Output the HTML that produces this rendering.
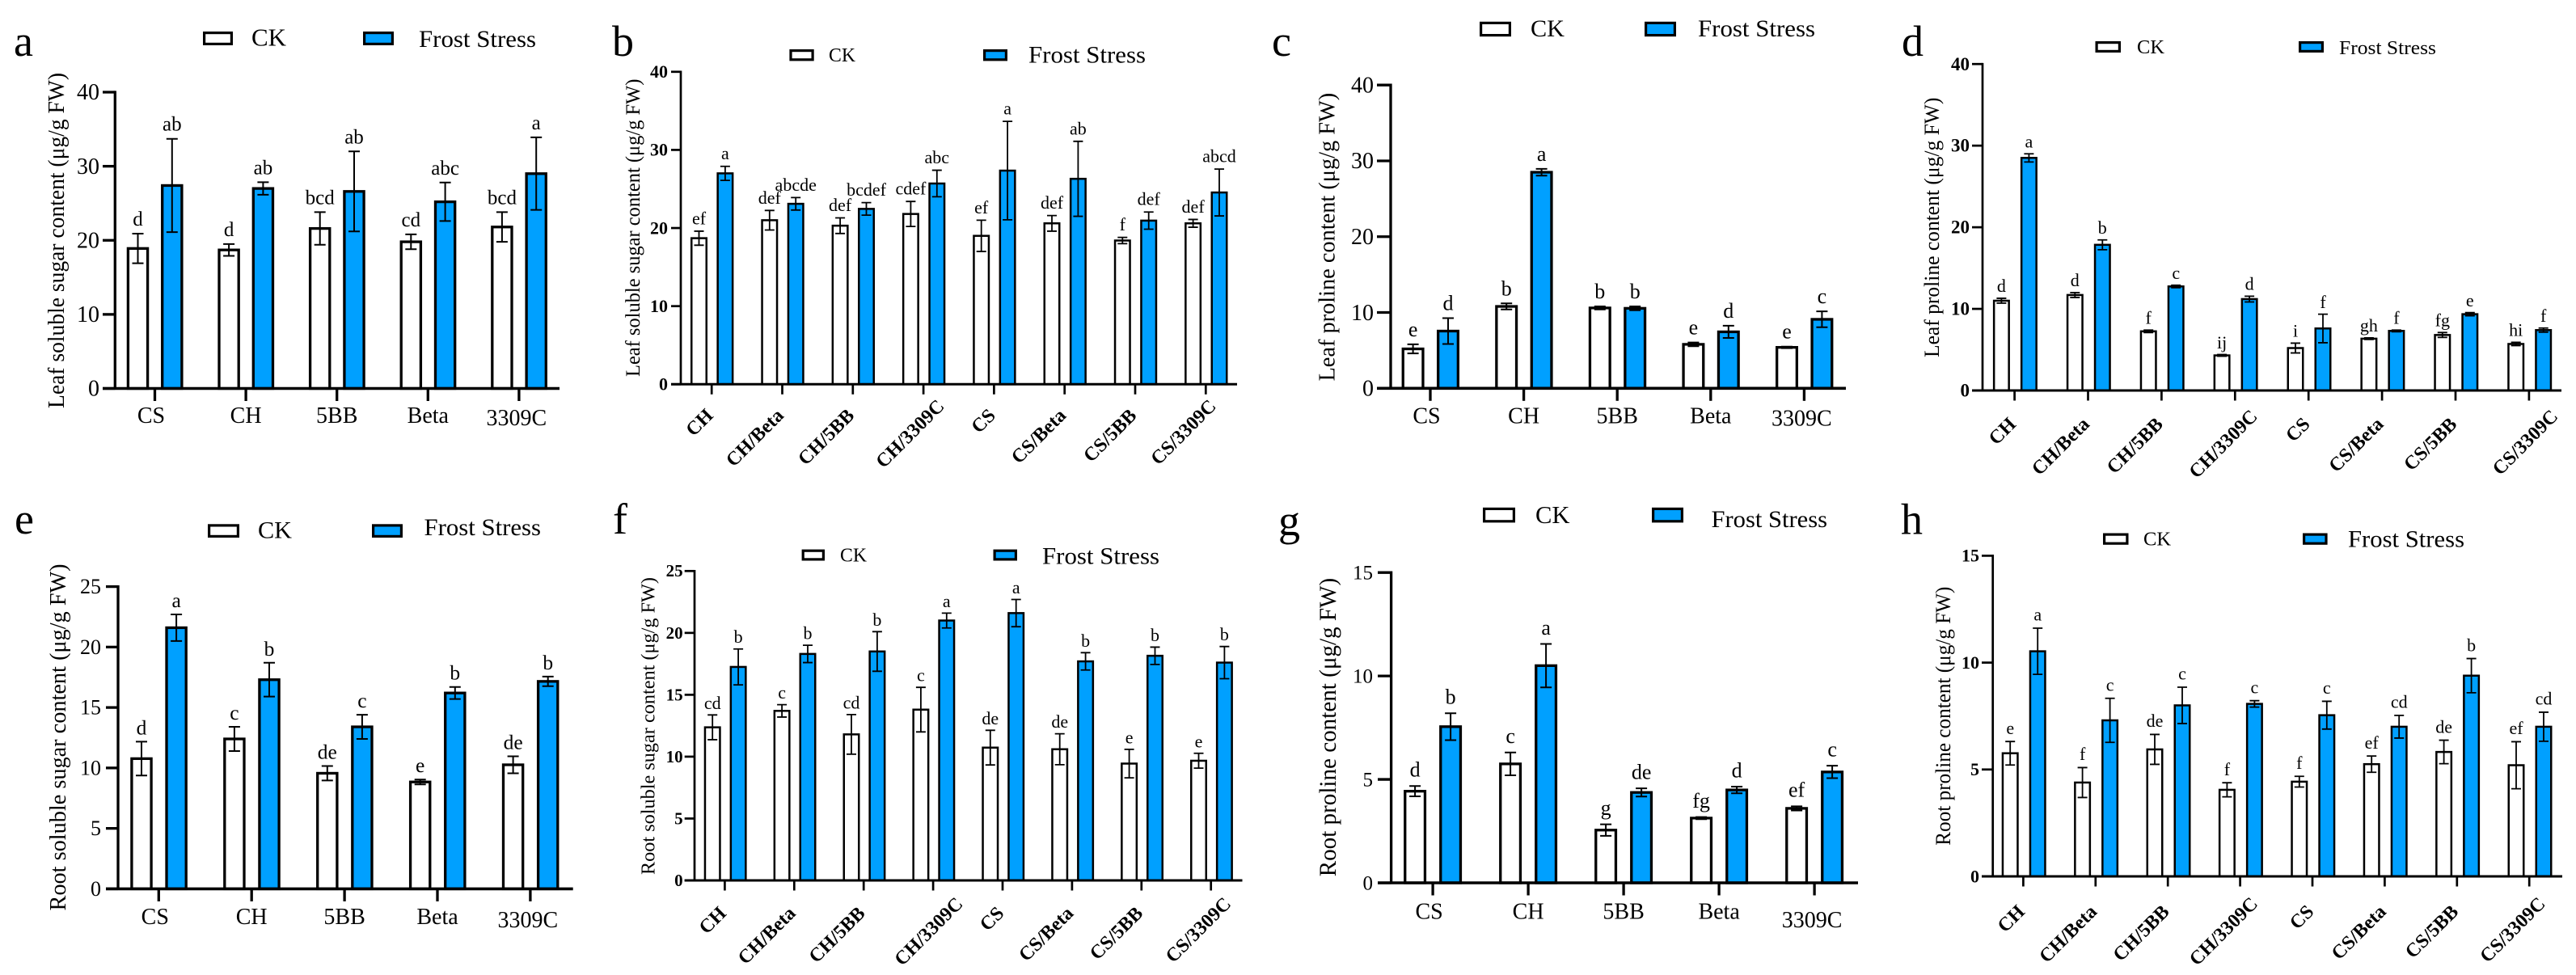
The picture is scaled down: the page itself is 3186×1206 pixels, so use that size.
<!DOCTYPE html>
<html lang="en">
<head>
<meta charset="utf-8">
<title>Soluble sugar and proline content under frost stress</title>
<style>
html,body{margin:0;padding:0;background:#fff;width:3186px;height:1206px;overflow:hidden;}
svg{display:block;font-family:"Liberation Serif","Times New Roman",serif;}
</style>
</head>
<body>
<svg id="figure" xmlns="http://www.w3.org/2000/svg" width="3186" height="1206" viewBox="0 0 3186 1206">
<rect x="0" y="0" width="3186" height="1206" fill="#fff"/>
</svg>
<script>
const categories5 = ['CS','CH','5BB','Beta','3309C'];
const categories8 = ['CH','CH/Beta','CH/5BB','CH/3309C','CS','CS/Beta','CS/5BB','CS/3309C'];
const ticks40 = [0,10,20,30,40];
const ticks25 = [0,5,10,15,20,25];
const ticks15 = [0,5,10,15];
const seriesNames = ['CK','Frost Stress'];

const aCk = [18.9,18.7,21.6,19.8,21.8];
const aCkErr = [2,0.8,2.2,1,2];
const aFrost = [27.4,27.0,26.6,25.2,29];
const aFrostErr = [6.3,0.85,5.4,2.6,4.9];
const aCkLetters = ['d','d','bcd','cd','bcd'];
const aFrostLetters = ['ab','ab','ab','abc','a'];

const bCk = [18.7,21,20.3,21.8,19,20.6,18.4,20.6];
const bCkErr = [0.9,1.25,1,1.6,2,1,0.4,0.5];
const bFrost = [27,23.1,22.45,25.7,27.35,26.3,20.95,24.55];
const bFrostErr = [0.9,0.8,0.8,1.7,6.3,4.8,1.1,3];
const bCkLetters = ['ef','def','def','cdef','ef','def','f','def'];
const bFrostLetters = ['a','abcde','bcdef','abc','a','ab','def','abcd'];

const cCk = [5.2,10.8,10.6,5.8,5.4];
const cCkErr = [0.6,0.4,0.2,0.25,0.1];
const cFrost = [7.55,28.5,10.55,7.45,9.1];
const cFrostErr = [1.7,0.45,0.25,0.8,1.05];
const cCkLetters = ['e','b','b','e','e'];
const cFrostLetters = ['d','a','b','d','c'];

const dCk = [11,11.7,7.25,4.3,5.2,6.35,6.8,5.7];
const dCkErr = [0.3,0.3,0.15,0.1,0.6,0.1,0.3,0.2];
const dFrost = [28.5,17.85,12.75,11.2,7.6,7.3,9.35,7.4];
const dFrostErr = [0.5,0.6,0.15,0.35,1.75,0.1,0.2,0.25];
const dCkLetters = ['d','d','f','ij','i','gh','fg','hi'];
const dFrostLetters = ['a','b','c','d','f','f','e','f'];

const eCk = [10.77,12.4,9.56,8.84,10.26];
const eCkErr = [1.4,1,0.6,0.2,0.7];
const eFrost = [21.6,17.3,13.4,16.2,17.16];
const eFrostErr = [1.1,1.4,1,0.5,0.4];
const eCkLetters = ['d','c','de','e','de'];
const eFrostLetters = ['a','b','c','b','b'];

const fCk = [12.37,13.7,11.8,13.8,10.73,10.6,9.44,9.67];
const fCkErr = [1,0.5,1.6,1.8,1.4,1.25,1.15,0.6];
const fFrost = [17.25,18.3,18.5,21,21.6,17.7,18.15,17.6];
const fFrostErr = [1.45,0.7,1.6,0.6,1.1,0.7,0.7,1.3];
const fCkLetters = ['cd','c','cd','c','de','de','e','e'];
const fFrostLetters = ['b','b','b','a','a','b','b','b'];

const gCk = [4.43,5.75,2.55,3.13,3.6];
const gCkErr = [0.25,0.55,0.28,0.05,0.1];
const gFrost = [7.55,10.5,4.37,4.49,5.36];
const gFrostErr = [0.65,1.05,0.2,0.16,0.3];
const gCkLetters = ['d','c','g','fg','ef'];
const gFrostLetters = ['b','a','de','d','c'];

const hCk = [5.76,4.39,5.94,4.05,4.43,5.25,5.82,5.2];
const hCkErr = [0.55,0.7,0.7,0.33,0.25,0.38,0.55,1.1];
const hFrost = [10.53,7.3,8,8.07,7.54,7,9.39,7];
const hFrostErr = [1.08,1.03,0.85,0.15,0.65,0.53,0.8,0.68];
const hCkLetters = ['e','f','de','f','f','ef','de','ef'];
const hFrostLetters = ['a','c','c','c','c','cd','b','cd'];

const NS = 'http://www.w3.org/2000/svg';
const BLUE = '#00a0ff';
const figure = document.getElementById('figure');

function make(tag, attrs, parent) {
  const el = document.createElementNS(NS, tag);
  for (const k in attrs) el.setAttribute(k, attrs[k]);
  parent.appendChild(el);
  return el;
}

function label(parent, str, x, y, size, o) {
  o = o || {};
  const parts = ['translate(' + x + ',' + y + ')'];
  if (o.rot) parts.push('rotate(' + o.rot + ')');
  const attrs = {transform: parts.join(' '), 'font-size': size, 'text-anchor': o.anchor || 'middle', fill: '#000'};
  if (o.bold) attrs['font-weight'] = 'bold';
  if (o.len) { attrs.textLength = o.len; attrs.lengthAdjust = 'spacingAndGlyphs'; }
  const t = make('text', attrs, parent);
  t.textContent = str;
  return t;
}

function drawPanel(p, d) {
  const g = make('g', {}, figure);
  
  

  const Y = v => p.y0 - v / d.ticks[d.ticks.length - 1] * (p.y0 - p.yTop);
  const X = i => p.x0 + i * p.step;

  const letter = label(g, p.id, p.letter[0], p.letter[1], 54, {anchor: 'start'});
  
  

  // legend
  const L = p.legend;
  const swCk = make('rect', {x: L.ckBox[0] + 1.6, y: L.boxY[0] + 1.6, width: L.ckBox[1] - L.ckBox[0] - 3.2, height: L.boxY[1] - L.boxY[0] - 3.2, fill: '#fff', stroke: '#000', 'stroke-width': 3.2}, g);
  
  
  const tCk = label(g, seriesNames[0], L.ck[0], L.ck[2], L.ck[3], {anchor: 'start', len: L.ck[1] - L.ck[0]});
  
  
  const swFr = make('rect', {x: L.frBox[0] + 1.6, y: L.boxY[0] + 1.6, width: L.frBox[1] - L.frBox[0] - 3.2, height: L.boxY[1] - L.boxY[0] - 3.2, fill: BLUE, stroke: '#000', 'stroke-width': 3.2}, g);
  
  
  const tFr = label(g, seriesNames[1], L.fr[0], L.fr[2], L.fr[3], {anchor: 'start', len: L.fr[1] - L.fr[0]});
  
  

  // y axis title
  const title = label(g, p.title, p.titleX, p.titleBottom, p.titleSize, {rot: -90, anchor: 'start', len: p.titleBottom - p.titleTop});
  
  

  // bars, error bars, letters
  function series(values, errs, letters, off, fill, kind) {
    values.forEach((v, i) => {
      const cx = X(i) + off;
      const sw = p.barStroke;
      const bar = make('rect', {x: cx - p.barW / 2 + sw / 2, y: Y(v), width: p.barW - sw, height: Y(0) - Y(v), fill: fill, stroke: '#000', 'stroke-width': sw}, g);
      
      

      const hi = Y(v + errs[i]), lo = Y(v - errs[i]);
      const err = make('path', {d: 'M' + cx + ' ' + hi + 'V' + lo + 'M' + (cx - p.cap) + ' ' + hi + 'H' + (cx + p.cap) + 'M' + (cx - p.cap) + ' ' + lo + 'H' + (cx + p.cap), stroke: '#000', 'stroke-width': p.errStroke, fill: 'none'}, g);
      
      

      const sig = label(g, letters[i], cx, hi - p.gap, p.sigSize);
      
      
    });
  }
  series(d.ck, d.ckErr, d.ckLetters, p.offCk, '#fff', 'ck');
  series(d.frost, d.frostErr, d.frostLetters, p.offFr, BLUE, 'frost-stress');

  // axes
  const yAxis = make('line', {x1: p.axisX, x2: p.axisX, y1: p.yTop - p.axisW / 2, y2: p.y0, stroke: '#000', 'stroke-width': p.axisW}, g);
  
  
  const xAxis = make('line', {x1: p.tickLeft, x2: p.xEnd, y1: p.y0, y2: p.y0, stroke: '#000', 'stroke-width': p.axisW + 0.3}, g);
  
  

  d.ticks.forEach(v => {
    const tick = make('line', {x1: p.tickLeft, x2: p.axisX, y1: Y(v), y2: Y(v), stroke: '#000', 'stroke-width': p.axisW}, g);
    
    
    const t = label(g, String(v), p.tickRight, Y(v) + p.tickSize * 0.33, p.tickSize, {anchor: 'end', bold: p.rotated});
    
    
  });

  d.cats.forEach((c, i) => {
    const tick = make('line', {x1: X(i), x2: X(i), y1: p.y0, y2: p.y0 + p.tickLen, stroke: '#000', 'stroke-width': p.axisW}, g);
    
    
    let t;
    if (p.rotated) {
      let dx = 3, dy = 0;
      if (c === 'CH/3309C') { dx = p.chLong; dy = p.longDy; }
      if (c === 'CS/3309C') { dx = p.csLong; dy = p.longDy; }
      t = label(g, c, X(i) + dx, p.y0 + p.catY + dy, 24, {rot: -45, anchor: 'end', bold: true});
    } else {
      const dy = c === '3309C' ? p.lastDy : 0;
      const dx = c === '3309C' ? -3 : (c === 'CS' ? -4.5 : 0);
      t = label(g, c, X(i) + dx, p.y0 + p.catY + dy, p.catSize);
    }
    
    
  });
}

const wide = {rotated: false, barStroke: 3.3, errStroke: 2, cap: 7, axisW: 3.3, tickLen: 15.5, catSize: 28};
const dense = {rotated: true, barStroke: 2.5, errStroke: 1.8, cap: 6, axisW: 2.7, tickLen: 12.5, barW: 21, sigSize: 22};

drawPanel(Object.assign({}, wide, {
  id: 'a', letter: [17, 69], title: 'Leaf soluble sugar content (μg/g FW)', titleX: 79, titleBottom: 505, titleTop: 90, titleSize: 28,
  axisX: 142.3, tickLeft: 127, xEnd: 692, y0: 480.5, yTop: 114, x0: 191.5, step: 112.6, offCk: -21, offFr: 21.3, barW: 27.5,
  tickRight: 123, tickSize: 28, sigSize: 25, gap: 10, catY: 42.5, lastDy: 3,
  legend: {ckBox: [251, 288], frBox: [449, 487], boxY: [39, 56], ck: [311, 354, 56.6, 31], fr: [518, 663, 58, 29.6]}
}), {cats: categories5, ticks: ticks40, ck: aCk, ckErr: aCkErr, frost: aFrost, frostErr: aFrostErr, ckLetters: aCkLetters, frostLetters: aFrostLetters});

drawPanel(Object.assign({}, dense, {
  id: 'b', letter: [757, 69], title: 'Leaf soluble sugar content (μg/g FW)', titleX: 791, titleBottom: 466, titleTop: 97.6, titleSize: 25,
  axisX: 842, tickLeft: 830, xEnd: 1530, y0: 475.3, yTop: 88.8, x0: 880.2, step: 87.3, offCk: -15.7, offFr: 16.7,
  tickRight: 826, tickSize: 22, gap: 8.5, catY: 40, longDy: -11.5, chLong: 27, csLong: 14,
  legend: {ckBox: [976.4, 1006.7], frBox: [1216, 1246], boxY: [61, 75.4], ck: [1025, 1058, 75.8, 24], fr: [1272, 1417, 77.7, 29.6]}
}), {cats: categories8, ticks: ticks40, ck: bCk, ckErr: bCkErr, frost: bFrost, frostErr: bFrostErr, ckLetters: bCkLetters, frostLetters: bFrostLetters});

drawPanel(Object.assign({}, wide, {
  id: 'c', letter: [1573, 69], title: 'Leaf proline content (μg/g FW)', titleX: 1650.7, titleBottom: 471.5, titleTop: 114.8, titleSize: 29,
  axisX: 1720, tickLeft: 1703, xEnd: 2283, y0: 480.3, yTop: 105.2, x0: 1769, step: 115.6, offCk: -21.4, offFr: 22, barW: 28,
  tickRight: 1699, tickSize: 28, sigSize: 26, gap: 10, catY: 43, lastDy: 3,
  legend: {ckBox: [1830, 1869], frBox: [2034, 2073], boxY: [26.8, 45.2], ck: [1893, 1935, 45, 30], fr: [2100, 2245, 44.8, 29.6]}
}), {cats: categories5, ticks: ticks40, ck: cCk, ckErr: cCkErr, frost: cFrost, frostErr: cFrostErr, ckLetters: cCkLetters, frostLetters: cFrostLetters});

drawPanel(Object.assign({}, dense, {
  id: 'd', letter: [2352, 69], title: 'Leaf proline content (μg/g FW)', titleX: 2398, titleBottom: 442, titleTop: 120.6, titleSize: 26,
  axisX: 2452, tickLeft: 2439, xEnd: 3168, y0: 483, yTop: 79.2, x0: 2491.6, step: 90.9, offCk: -16.2, offFr: 17.8,
  tickRight: 2436, tickSize: 23, gap: 7.7, catY: 43, longDy: -9.6, chLong: 29, csLong: 37,
  legend: {ckBox: [2591.5, 2623], frBox: [2843, 2874], boxY: [51, 65], ck: [2643, 2677, 65.8, 24.5], fr: [2893, 3013, 67, 24.5]}
}), {cats: categories8, ticks: ticks40, ck: dCk, ckErr: dCkErr, frost: dFrost, frostErr: dFrostErr, ckLetters: dCkLetters, frostLetters: dFrostLetters});

drawPanel(Object.assign({}, wide, {
  id: 'e', letter: [18, 660], title: 'Root soluble sugar content (μg/g FW)', titleX: 81, titleBottom: 1126.5, titleTop: 697.4, titleSize: 28,
  axisX: 146, tickLeft: 131, xEnd: 708.7, y0: 1099.4, yTop: 725.6, x0: 196.3, step: 114.9, offCk: -21.3, offFr: 21.8, barW: 27.5,
  tickRight: 125, tickSize: 26, sigSize: 25.5, gap: 9, catY: 43.7, lastDy: 4,
  legend: {ckBox: [257, 296], frBox: [460, 498], boxY: [648.3, 665], ck: [319, 361, 665.7, 30], fr: [524.5, 669, 661.8, 29.5]}
}), {cats: categories5, ticks: ticks25, ck: eCk, ckErr: eCkErr, frost: eFrost, frostErr: eFrostErr, ckLetters: eCkLetters, frostLetters: eFrostLetters});

drawPanel(Object.assign({}, dense, {
  id: 'f', letter: [758, 660], title: 'Root soluble sugar content (μg/g FW)', titleX: 809.6, titleBottom: 1082, titleTop: 714, titleSize: 24.5,
  axisX: 859, tickLeft: 846.7, xEnd: 1536.5, y0: 1089, yTop: 706.3, x0: 896.4, step: 85.9, offCk: -15.2, offFr: 16.7,
  tickRight: 844.6, tickSize: 21, gap: 7.5, catY: 42, longDy: -11.6, chLong: 38, csLong: 26,
  legend: {ckBox: [991.6, 1020], frBox: [1228.5, 1258], boxY: [679.6, 693.5], ck: [1039, 1072, 694.7, 24], fr: [1289, 1434, 697.4, 29.6]}
}), {cats: categories8, ticks: ticks25, ck: fCk, ckErr: fCkErr, frost: fFrost, frostErr: fFrostErr, ckLetters: fCkLetters, frostLetters: fFrostLetters});

drawPanel(Object.assign({}, wide, {
  id: 'g', letter: [1581, 662], title: 'Root proline content (μg/g FW)', titleX: 1652, titleBottom: 1084.3, titleTop: 714.8, titleSize: 30,
  axisX: 1720.6, tickLeft: 1704, xEnd: 2298, y0: 1092, yTop: 708.2, x0: 1772.1, step: 118, offCk: -22, offFr: 22, barW: 28,
  tickRight: 1698, tickSize: 25, sigSize: 26, gap: 11.6, catY: 44.5, lastDy: 10.5,
  legend: {ckBox: [1834, 1874], frBox: [2043, 2082], boxY: [627.8, 646.4], ck: [1899, 1941.5, 647, 31], fr: [2116.5, 2260, 652, 29.4]}
}), {cats: categories5, ticks: ticks15, ck: gCk, ckErr: gCkErr, frost: gFrost, frostErr: gFrostErr, ckLetters: gCkLetters, frostLetters: gFrostLetters});

drawPanel(Object.assign({}, dense, {
  id: 'h', letter: [2351, 660.7], title: 'Root proline content (μg/g FW)', titleX: 2412, titleBottom: 1045.7, titleTop: 725.6, titleSize: 26,
  axisX: 2464.7, tickLeft: 2451, xEnd: 3169, y0: 1084, yTop: 687.4, x0: 2502.4, step: 89.4, offCk: -16.2, offFr: 17.8,
  tickRight: 2448, tickSize: 22, gap: 9.3, catY: 45, longDy: -9.7, chLong: 23, csLong: 21,
  legend: {ckBox: [2601, 2632.5], frBox: [2848, 2878.6], boxY: [659.5, 673.8], ck: [2651, 2685, 674.6, 24.5], fr: [2904, 3048, 676.5, 29.4]}
}), {cats: categories8, ticks: ticks15, ck: hCk, ckErr: hCkErr, frost: hFrost, frostErr: hFrostErr, ckLetters: hCkLetters, frostLetters: hFrostLetters});
</script>
</body>
</html>
